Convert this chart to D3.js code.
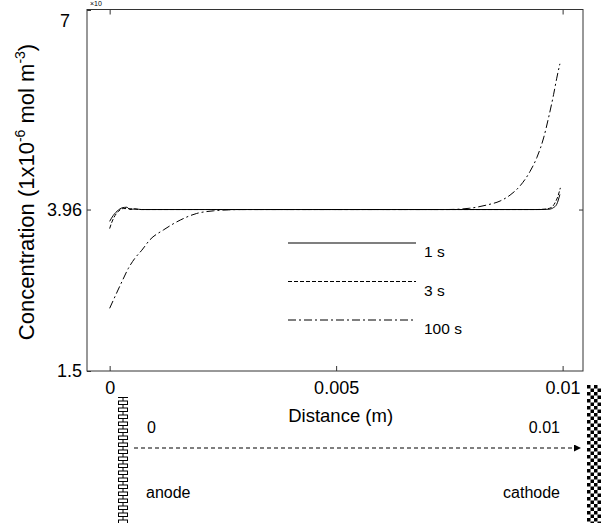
<!DOCTYPE html>
<html>
<head>
<meta charset="utf-8">
<script src="https://cdn.jsdelivr.net/npm/d3@7"></script>
<style>
  body { margin: 0; background: #fff; }
  svg { display: block; font-family: "Liberation Sans", Arial, sans-serif; }
</style>
</head>
<body>
<div id="chart"></div>
<script>
// distance (m) and concentration (1e-6 mol m-3) for each time
var x1s = [0, 0.00008, 0.00019, 0.00027, 0.00038, 0.00045, 0.00056, 0.0007, 0.0095, 0.0097, 0.0098, 0.00987, 0.00994];
var c1s = [3.78, 3.87, 3.95, 3.985, 3.995, 3.96, 3.97, 3.96, 3.96, 3.965, 3.99, 4.04, 4.19];
var x3s = [0, 0.00005, 0.00012, 0.00019, 0.0003, 0.0005, 0.0007, 0.0094, 0.0096, 0.00975, 0.00983, 0.0099, 0.00995];
var c3s = [3.67, 3.77, 3.87, 3.93, 3.975, 3.97, 3.96, 3.96, 3.965, 3.99, 4.06, 4.17, 4.29];
var x100s = [0, 0.00027, 0.00041, 0.00056, 0.00071, 0.00089, 0.00119, 0.00156, 0.00192, 0.00229, 0.00262, 0.003,
             0.0072, 0.00744, 0.00795, 0.00833, 0.00862, 0.00884, 0.00906, 0.00928, 0.00943, 0.00958, 0.00969, 0.0098, 0.00987, 0.00994];
var c100s = [2.455, 2.86, 3.06, 3.22, 3.34, 3.5, 3.65, 3.8, 3.9, 3.94, 3.955, 3.96,
             3.96, 3.96, 3.98, 4.03, 4.09, 4.18, 4.32, 4.54, 4.75, 5.05, 5.36, 5.71, 5.96, 6.18];
var seriesNames = ['1 s', '3 s', '100 s'];
var xTicks = [0, 0.005, 0.01];
var xTickLabels = ['0', '0.005', '0.01'];
var yTicks = [1.5, 3.96, 7];
var yTickLabels = ['1.5', '3.96', '7'];

var width = 603, height = 523;
var svg = d3.select('#chart').append('svg').attr('width', width).attr('height', height);

var x = d3.scaleLinear().domain([-0.0005, 0.01045]).range([87, 583]);
var y = d3.scaleLinear().domain([1.5, 7]).range([371, 10]);

var defs = svg.append('defs');
var brick = defs.append('pattern').attr('id', 'brick').attr('patternUnits', 'userSpaceOnUse')
    .attr('x', 117).attr('y', 397).attr('width', 12).attr('height', 7);
brick.append('path')
    .attr('d', 'M1,0.5H11M1,4H11M6,0.5V4M1.5,4V7M10.5,4V7M1.5,0V0.5M10.5,0V0.5')
    .attr('stroke', '#000').attr('stroke-width', 1).attr('fill', 'none');
var checker = defs.append('pattern').attr('id', 'checker').attr('patternUnits', 'userSpaceOnUse')
    .attr('x', 587).attr('y', 385).attr('width', 7).attr('height', 7);
checker.append('rect').attr('width', 7).attr('height', 7).attr('fill', '#fff');
checker.append('rect').attr('width', 3.5).attr('height', 3.5).attr('fill', '#000');
checker.append('rect').attr('x', 3.5).attr('y', 3.5).attr('width', 3.5).attr('height', 3.5).attr('fill', '#000');
defs.append('marker').attr('id', 'arrow').attr('viewBox', '0 -5 10 10')
    .attr('refX', 10).attr('refY', 0).attr('markerWidth', 7).attr('markerHeight', 7)
    .attr('markerUnits', 'userSpaceOnUse').attr('orient', 'auto')
    .append('path').attr('d', 'M0,-5L10,0L0,5Z').attr('fill', '#000');

// frame
svg.append('rect').attr('x', x(-0.0005)).attr('y', y(7) - 0.5)
    .attr('width', x(0.01045) - x(-0.0005)).attr('height', y(1.5) - y(7) + 0.5)
    .attr('fill', 'none').attr('stroke', '#333').attr('stroke-width', 1);

var xAxis = svg.append('g').attr('transform', 'translate(0,' + y(1.5) + ')')
    .call(d3.axisBottom(x).tickValues(xTicks).tickSize(-5).tickPadding(10)
        .tickFormat(function(d, i) { return xTickLabels[i]; }));
svg.append('g').attr('transform', 'translate(0,' + (y(7) - 0.5) + ')')
    .call(d3.axisTop(x).tickValues([0, 0.01]).tickSize(-5).tickFormat(''));
var yAxis = svg.append('g').attr('transform', 'translate(' + x(-0.0005) + ',0)')
    .call(d3.axisLeft(y).tickValues(yTicks).tickSize(-4).tickPadding(5)
        .tickFormat(function(d, i) { return yTickLabels[i]; }));
svg.append('g').attr('transform', 'translate(' + x(0.01045) + ',0)')
    .call(d3.axisRight(y).tickValues([3.96]).tickSize(-4).tickFormat(''));

svg.selectAll('.domain').remove();
svg.selectAll('.tick line').attr('stroke', '#333');
xAxis.selectAll('text').attr('font-size', 18).attr('fill', '#000');
yAxis.selectAll('text').attr('font-size', 18).attr('fill', '#000');
yAxis.selectAll('.tick').filter(function(d) { return d === 7; }).select('text')
    .attr('x', -17).attr('dy', '0.32em').attr('transform', 'translate(0,11)');

// small exponent label at the very top
svg.append('text').attr('x', 90).attr('y', 6).attr('font-size', 7).text('×10');

// axis titles
svg.append('text').attr('x', x(0.0051)).attr('y', 422).attr('text-anchor', 'middle')
    .attr('font-size', 18.5).text('Distance (m)');
var yt = svg.append('text').attr('transform', 'translate(34,192) rotate(-90)')
    .attr('text-anchor', 'middle').attr('font-size', 22);
yt.append('tspan').text('Concentration (1x10');
yt.append('tspan').attr('dy', -9).attr('font-size', 14).text('-6');
yt.append('tspan').attr('dy', 9).text(' mol m');
yt.append('tspan').attr('dy', -9).attr('font-size', 14).text('-3');
yt.append('tspan').attr('dy', 9).text(')');

// curves
var dashes = [null, '4,2', '8,3,2,3'];
var series = [
    x1s.map(function(d, i) { return [d, c1s[i]]; }),
    x3s.map(function(d, i) { return [d, c3s[i]]; }),
    x100s.map(function(d, i) { return [d, c100s[i]]; })
];
var line = d3.line().x(function(d) { return x(d[0]); }).y(function(d) { return y(d[1]); })
    .curve(d3.curveMonotoneX);
svg.append('g').selectAll('path').data(series).join('path')
    .attr('d', line).attr('fill', 'none').attr('stroke', '#000').attr('stroke-width', 1)
    .attr('stroke-dasharray', function(d, i) { return dashes[i]; });

// legend
var legend = svg.append('g').selectAll('g').data(seriesNames).join('g')
    .attr('transform', function(d, i) { return 'translate(288,' + (243 + i * 38.5) + ')'; });
legend.append('line').attr('x1', 0).attr('x2', 128).attr('stroke', '#000').attr('stroke-width', 1.2)
    .attr('stroke-dasharray', function(d, i) { return dashes[i]; });
legend.append('text').attr('x', 136).attr('y', 14).attr('font-size', 15.5).text(function(d) { return d; });

// cell sketch below the chart
svg.append('rect').attr('x', 117).attr('y', 397).attr('width', 12).attr('height', 126).attr('fill', 'url(#brick)');
svg.append('rect').attr('x', 587).attr('y', 385).attr('width', 14).attr('height', 138).attr('fill', 'url(#checker)');
svg.append('line').attr('x1', 134).attr('x2', 581).attr('y1', 448).attr('y2', 448)
    .attr('stroke', '#000').attr('stroke-width', 1.2).attr('stroke-dasharray', '4,3')
    .attr('marker-end', 'url(#arrow)');
svg.append('text').attr('x', 147).attr('y', 433).attr('font-size', 16).text(xTickLabels[0]);
svg.append('text').attr('x', 560).attr('y', 433).attr('font-size', 16).attr('text-anchor', 'end').text(xTickLabels[2]);
svg.append('text').attr('x', 146).attr('y', 498).attr('font-size', 16).text('anode');
svg.append('text').attr('x', 560).attr('y', 498).attr('font-size', 16).attr('text-anchor', 'end').text('cathode');
</script>
</body>
</html>
